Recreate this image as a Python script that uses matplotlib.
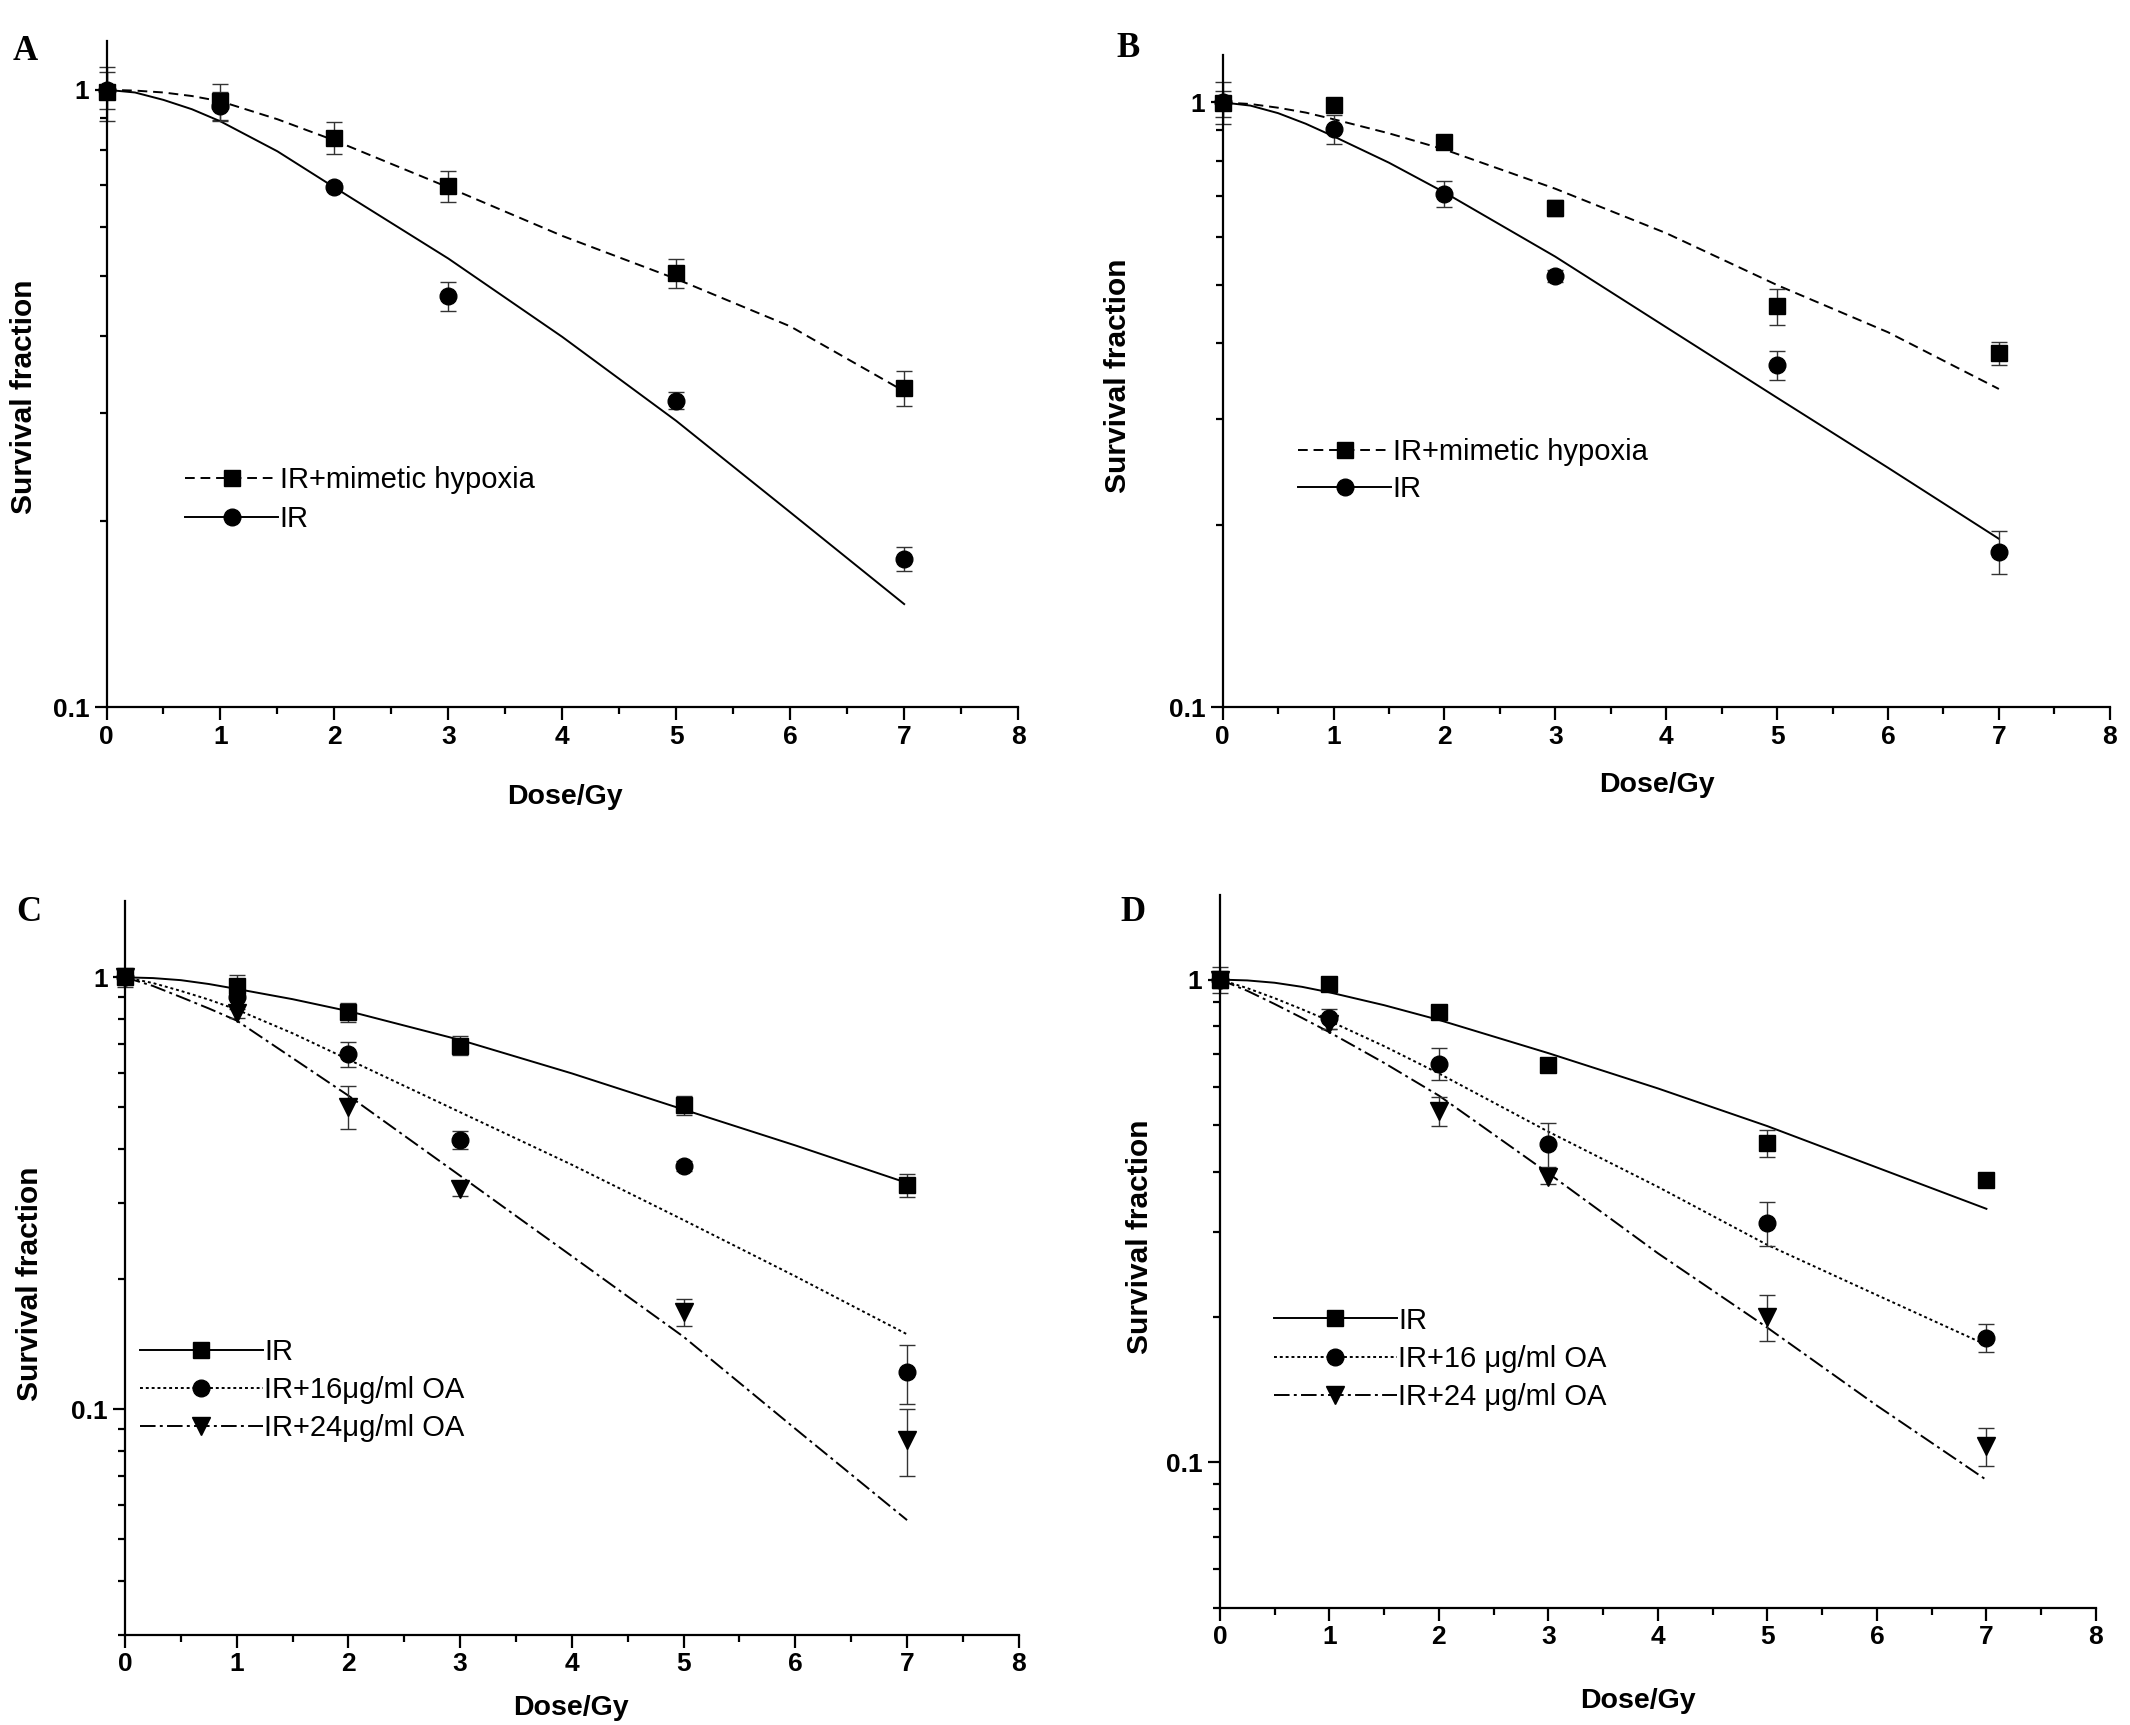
import numpy as np
import matplotlib
matplotlib.use('Agg')
import matplotlib.pyplot as plt
from matplotlib.lines import Line2D
from matplotlib.ticker import LogLocator, FixedLocator, MultipleLocator, FuncFormatter

plt.rcParams['font.family'] = ['Liberation Sans', 'DejaVu Sans']

# measured doses
dose = [0, 1, 2, 3, 5, 7]
fit_dose = [0, 0.25, 0.5, 0.75, 1, 1.5, 2, 3, 4, 5, 6, 7]

# panel A
a_hyp = [0.99, 0.958, 0.836, 0.699, 0.505, 0.329]
a_hyp_err = [0.10, 0.065, 0.05, 0.04, 0.028, 0.021]
a_ir = [1.0, 0.94, 0.697, 0.464, 0.314, 0.174]
a_ir_err = [0.07, 0.05, 0.01, 0.025, 0.01, 0.008]
a_hyp_fit = [1.0, 0.997, 0.99, 0.977, 0.958, 0.896, 0.828, 0.695, 0.58, 0.494, 0.414, 0.325]
a_ir_fit = [1.0, 0.99, 0.963, 0.93, 0.889, 0.795, 0.695, 0.533, 0.398, 0.291, 0.207, 0.147]

# panel B
b_hyp = [0.996, 0.99, 0.861, 0.669, 0.46, 0.385]
b_hyp_err = [0.05, 0.02, 0.02, 0.02, 0.032, 0.017]
b_ir = [1.0, 0.905, 0.706, 0.517, 0.368, 0.181]
b_ir_err = [0.08, 0.05, 0.035, 0.012, 0.02, 0.015]
b_hyp_fit = [1.0, 0.994, 0.98, 0.962, 0.938, 0.889, 0.836, 0.72, 0.608, 0.499, 0.417, 0.336]
b_ir_fit = [1.0, 0.988, 0.96, 0.922, 0.879, 0.795, 0.71, 0.556, 0.425, 0.325, 0.249, 0.19]

# panel C
c_ir = [1.0, 0.954, 0.83, 0.695, 0.505, 0.33]
c_ir_err = [0.05, 0.06, 0.04, 0.035, 0.025, 0.02]
c_16 = [1.0, 0.899, 0.665, 0.42, 0.366, 0.122]
c_16_err = [0.03, 0.04, 0.045, 0.02, 0.01, 0.019]
c_24 = [1.0, 0.825, 0.502, 0.324, 0.168, 0.085]
c_24_err = [0.03, 0.02, 0.057, 0.012, 0.012, 0.015]
c_ir_fit = [1.0, 0.996, 0.985, 0.965, 0.94, 0.89, 0.835, 0.716, 0.599, 0.494, 0.408, 0.334]
c_16_fit = [1.0, 0.97, 0.93, 0.888, 0.842, 0.742, 0.645, 0.487, 0.368, 0.274, 0.203, 0.149]
c_24_fit = [1.0, 0.955, 0.9, 0.847, 0.794, 0.65, 0.532, 0.347, 0.226, 0.147, 0.090, 0.0553]

# panel D
d_ir = [1.0, 0.98, 0.858, 0.665, 0.459, 0.384]
d_ir_err = [0.06, 0.01, 0.015, 0.015, 0.03, 0.012]
d_16 = [1.0, 0.831, 0.67, 0.456, 0.313, 0.181]
d_16_err = [0.04, 0.04, 0.05, 0.048, 0.033, 0.012]
d_24 = [1.0, 0.81, 0.534, 0.389, 0.2, 0.108]
d_24_err = [0.03, 0.02, 0.036, 0.012, 0.022, 0.01]
d_ir_fit = [1.0, 0.996, 0.985, 0.966, 0.941, 0.885, 0.825, 0.704, 0.595, 0.497, 0.408, 0.335]
d_16_fit = [1.0, 0.96, 0.915, 0.868, 0.821, 0.728, 0.639, 0.484, 0.372, 0.282, 0.222, 0.175]
d_24_fit = [1.0, 0.948, 0.89, 0.833, 0.778, 0.672, 0.575, 0.397, 0.271, 0.19, 0.131, 0.0919]

DASHED = (0, (5, 3))
SOLID = '-'
DOTTED = (0, (1.5, 1.5))
DASHDOT = (0, (8, 2.2, 1.5, 2.2))


def style_axes(ax, ymin, ymax):
    ax.set_yscale('log')
    ax.set_xlim(0, 8)
    ax.set_ylim(ymin, ymax)
    for s in ['top', 'right']:
        ax.spines[s].set_visible(False)
    for s in ['left', 'bottom']:
        ax.spines[s].set_linewidth(1.6)
    ax.xaxis.set_major_locator(MultipleLocator(1))
    ax.xaxis.set_minor_locator(MultipleLocator(0.5))
    ax.yaxis.set_major_locator(FixedLocator([0.01, 0.1, 1]))
    ax.yaxis.set_minor_locator(LogLocator(base=10, subs=np.arange(2, 10) * 1.0))
    ax.yaxis.set_major_formatter(FuncFormatter(lambda v, p: '1' if v >= 1 else '{:g}'.format(v)))
    ax.yaxis.set_minor_formatter(FuncFormatter(lambda v, p: ''))
    ax.tick_params(which='major', direction='out', length=9, width=1.6, labelsize=19)
    ax.tick_params(which='minor', direction='out', length=5, width=1.6)
    for lab in ax.get_xticklabels() + ax.get_yticklabels():
        lab.set_fontweight('bold')


def draw_series(ax, y, yerr, fit, marker, ls, ms):
    ax.plot(fit_dose, fit, color='k', linestyle=ls, lw=1.4, clip_on=False)
    ax.errorbar(dose, y, yerr=yerr, fmt=marker, color='k', ms=ms,
                ecolor='#333333', elinewidth=1.0, capsize=6, capthick=1.0, clip_on=False)


def add_legend(ax, entries, anchor, hlen, spacing):
    handles = [Line2D([], [], color='k', linestyle=ls, lw=1.4, marker=m, markersize=ms)
               for (m, ls, ms, lab) in entries]
    labels = [lab for (m, ls, ms, lab) in entries]
    ax.legend(handles, labels, loc='upper left', bbox_to_anchor=anchor, frameon=False,
              fontsize=21, numpoints=1, handlelength=hlen, handletextpad=0.05,
              borderpad=0, borderaxespad=0, labelspacing=spacing)


fig = plt.figure(figsize=(21.3, 17.25), dpi=100)

axA = fig.add_axes([0.050, 0.5899, 0.428, 0.3864])
axB = fig.add_axes([0.574, 0.5899, 0.4165, 0.3785])
axC = fig.add_axes([0.0587, 0.0523, 0.4196, 0.4252])
axD = fig.add_axes([0.5727, 0.0681, 0.4113, 0.4133])

# A
style_axes(axA, 0.1, 1.2)
draw_series(axA, a_hyp, a_hyp_err, a_hyp_fit, 's', DASHED, 11)
draw_series(axA, a_ir, a_ir_err, a_ir_fit, 'o', SOLID, 12)
add_legend(axA, [('s', DASHED, 11, 'IR+mimetic hypoxia'), ('o', SOLID, 12, 'IR')],
           (0.086, 0.362), 3.2, 0.38)

# B
style_axes(axB, 0.1, 1.2)
draw_series(axB, b_hyp, b_hyp_err, b_hyp_fit, 's', DASHED, 11)
draw_series(axB, b_ir, b_ir_err, b_ir_fit, 'o', SOLID, 12)
add_legend(axB, [('s', DASHED, 11, 'IR+mimetic hypoxia'), ('o', SOLID, 12, 'IR')],
           (0.085, 0.413), 3.2, 0.32)

# C
style_axes(axC, 0.03, 1.5)
draw_series(axC, c_ir, c_ir_err, c_ir_fit, 's', SOLID, 11)
draw_series(axC, c_16, c_16_err, c_16_fit, 'o', DOTTED, 12)
draw_series(axC, c_24, c_24_err, c_24_fit, 'v', DASHDOT, 13)
add_legend(axC, [('s', SOLID, 11, 'IR'), ('o', DOTTED, 12, 'IR+16\u03bcg/ml OA'),
                 ('v', DASHDOT, 13, 'IR+24\u03bcg/ml OA')],
           (0.017, 0.404), 4.2, 0.33)

# D
style_axes(axD, 0.05, 1.5)
draw_series(axD, d_ir, d_ir_err, d_ir_fit, 's', SOLID, 11)
draw_series(axD, d_16, d_16_err, d_16_fit, 'o', DOTTED, 12)
draw_series(axD, d_24, d_24_err, d_24_fit, 'v', DASHDOT, 13)
add_legend(axD, [('s', SOLID, 11, 'IR'), ('o', DOTTED, 12, 'IR+16 \u03bcg/ml OA'),
                 ('v', DASHDOT, 13, 'IR+24 \u03bcg/ml OA')],
           (0.062, 0.422), 4.2, 0.35)

# axis titles and panel letters (figure coords)
for (x, y) in [(0.0115, 0.770), (0.525, 0.782), (0.014, 0.256), (0.535, 0.283)]:
    fig.text(x, y, 'Survival fraction', rotation=90, fontsize=21.5, fontweight='bold',
             ha='center', va='center')
for (x, y) in [(0.265, 0.538), (0.778, 0.545), (0.268, 0.010), (0.769, 0.014)]:
    fig.text(x, y, 'Dose/Gy', fontsize=20.5, fontweight='bold', ha='center', va='center')
for (x, y, t) in [(0.006, 0.965, 'A'), (0.524, 0.967, 'B'), (0.0077, 0.466, 'C'), (0.526, 0.466, 'D')]:
    fig.text(x, y, t, fontsize=25, fontweight='bold', family=['Liberation Serif', 'DejaVu Serif'])

fig.savefig('out.png', dpi=100)
